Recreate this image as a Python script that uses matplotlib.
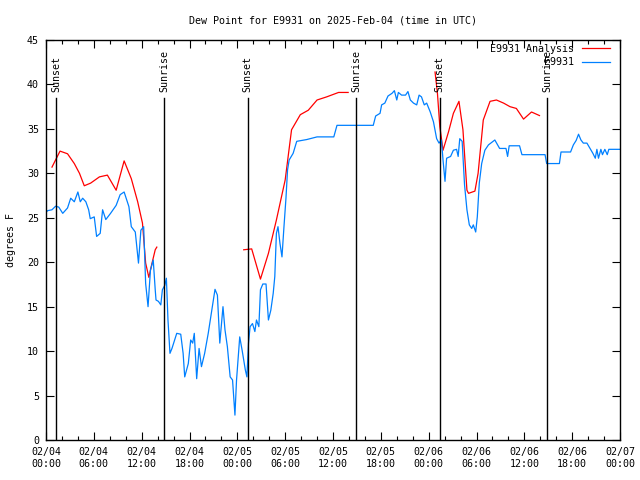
import datetime as dt
import matplotlib
matplotlib.use('Agg')
import matplotlib.pyplot as plt
import matplotlib.dates as mdates

# hours after 2025-02-04 00:00 UTC
analysis_hours = [
    [0.75, 1.76, 2.7, 3.55, 4.2, 4.8, 5.6, 6.7, 7.7, 8.8, 9.8, 10.7, 11.5, 12.1, 12.5, 12.9, 13.3, 13.7, 13.9],
    [24.8, 25.8, 26.9, 27.9, 28.9, 30.0, 30.8, 31.9, 32.9, 34.0, 35.2, 36.7, 37.9],
    [48.8, 49.1, 49.4, 49.8, 50.5, 51.1, 51.8, 52.3, 52.8, 53.0, 53.8, 54.2, 54.85, 55.7, 56.5,
     57.4, 58.2, 59.0, 59.9, 60.9, 61.9],
]
analysis_vals = [
    [30.7, 32.5, 32.2, 31.1, 30.0, 28.6, 28.9, 29.6, 29.8, 28.1, 31.4, 29.4, 26.8, 24.4, 19.9, 18.3, 19.9, 21.4, 21.7],
    [21.4, 21.5, 18.1, 21.0, 24.75, 29.25, 34.9, 36.6, 37.1, 38.25, 38.6, 39.1, 39.1],
    [41.4, 39.0, 35.25, 32.6, 34.7, 36.75, 38.1, 34.9, 28.1, 27.75, 28.0, 30.0, 36.0, 38.1, 38.25,
     37.9, 37.5, 37.3, 36.1, 36.9, 36.5],
]

station_hours = [
    0.0, 0.2, 0.75, 1.2, 1.6, 2.1, 2.7, 3.1, 3.55, 4.0, 4.3, 4.6, 5.0, 5.35, 5.55, 6.05, 6.35, 6.8,
    7.1, 7.5, 8.1, 8.8, 9.3, 9.8, 10.4, 10.7, 11.2, 11.6, 11.9, 12.25, 12.5, 12.8, 13.1, 13.45,
    13.7, 13.8, 14.1, 14.4, 14.6, 14.9, 15.1, 15.3, 15.55, 15.8, 16.4, 16.9, 17.2, 17.4, 17.85,
    18.15, 18.4, 18.6, 18.9, 19.2, 19.5, 19.9, 20.35, 20.8, 21.2, 21.5, 21.8, 22.2, 22.45, 22.75,
    23.1, 23.4, 23.7, 23.9, 24.3, 24.6, 25.0, 25.2, 25.4, 25.6, 25.9, 26.2, 26.4, 26.7, 26.9,
    27.2, 27.6, 27.9, 28.2, 28.5, 28.7, 28.9, 29.1, 29.35, 29.6, 29.85, 30.1, 30.3, 30.5, 31.0,
    31.45, 32.7, 34.0, 36.1, 36.5, 37.7, 41.05, 41.35, 41.9, 42.1, 42.5, 42.9, 43.4, 43.7, 44.0,
    44.2, 44.6, 45.1, 45.4, 45.7, 46.1, 46.5, 46.8, 47.1, 47.45, 47.75, 48.2, 48.6, 49.0, 49.3,
    49.6, 49.8, 50.05, 50.25, 50.75, 51.1, 51.5, 51.7, 51.9, 52.2, 52.3, 52.5, 52.8, 53.1, 53.4,
    53.6, 53.9, 54.1, 54.35, 54.65, 55.05, 55.5, 56.3, 56.9, 57.7, 57.9, 58.1, 58.8, 59.4, 59.7,
    62.6, 62.8, 64.4, 64.6, 65.8, 66.15, 66.5, 66.8, 67.1, 67.4, 67.85, 68.3, 68.6, 68.9, 69.1,
    69.3, 69.6, 69.8, 70.1, 70.4, 70.6, 72.0,
]
station_vals = [
    25.6, 25.8, 25.9, 26.3, 26.2, 25.5, 26.1, 27.2, 26.8, 27.9, 26.8, 27.2, 26.8, 25.9, 24.9, 25.1, 22.9, 23.25,
    25.9, 24.8, 25.5, 26.4, 27.6, 27.9, 26.25, 24.0, 23.4, 19.9, 23.6, 24.0, 17.6, 15.0, 19.1, 20.25,
    16.9, 15.75, 15.6, 15.2, 16.9, 17.4, 18.2, 13.5, 9.75, 10.3, 12.0, 11.9, 9.75, 7.1, 8.6,
    11.25, 10.9, 12.0, 6.9, 10.3, 8.25, 9.75, 12.0, 14.6, 16.95, 16.3, 10.9, 15.0, 12.4, 10.5,
    7.1, 6.75, 2.8, 6.75, 11.6, 10.1, 7.9, 7.1, 10.9, 12.75, 13.1, 12.2, 13.5, 12.75, 16.9,
    17.55, 17.55, 13.5, 14.6, 16.5, 18.4, 23.25, 24.0, 22.1, 20.6, 24.0, 27.2, 30.4, 31.5, 32.25,
    33.6, 33.8, 34.1, 34.1, 35.4, 35.4, 35.4, 36.45, 36.75, 37.7, 37.9, 38.7, 39.0, 39.3, 38.25,
    39.1, 38.8, 38.8, 39.2, 38.25, 37.9, 37.7, 38.8, 38.6, 37.7, 37.9, 36.9, 35.8, 33.9, 33.4,
    33.75, 31.5, 29.1, 31.7, 31.9, 32.6, 32.7, 31.9, 33.9, 33.6, 31.9, 28.7, 25.9, 24.2, 23.8,
    24.2, 23.4, 25.1, 28.9, 31.1, 32.6, 33.2, 33.75, 32.8, 32.8, 31.9, 33.1, 33.1, 33.1, 32.1,
    32.1, 31.1, 31.1, 32.4, 32.4, 33.2, 33.7, 34.4, 33.75, 33.4, 33.4, 32.7, 32.25, 31.7, 32.7,
    31.7, 32.7, 32.1, 32.7, 32.1, 32.7, 32.7,
]

sun_hours = [1.25, 14.8, 25.3, 38.9, 49.4, 62.85]
sun_labels = ['Sunset', 'Sunrise', 'Sunset', 'Sunrise', 'Sunset', 'Sunrise']

start = dt.datetime(2025, 2, 4, 0, 0)
def to_time(hours):
    return [start + dt.timedelta(hours=h) for h in hours]

plt.rcParams['font.family'] = 'DejaVu Sans Mono'
fs = 7.2

fig = plt.figure(figsize=(6.4, 4.8), dpi=100)
ax = fig.add_axes([46/640, 40/480, 574/640, 400/480])

for i in range(len(analysis_hours)):
    ax.plot(to_time(analysis_hours[i]), analysis_vals[i], color='#ff0000', lw=0.9,
            label='E9931 Analysis' if i == 0 else None)
ax.plot(to_time(station_hours), station_vals, color='#0080ff', lw=0.9, label='E9931')

for h, lab in zip(sun_hours, sun_labels):
    t = start + dt.timedelta(hours=h)
    ax.plot([t, t], [0, 38.5], color='black', lw=1.0)
    ax.text(t, 39.1, lab, rotation=90, ha='center', va='bottom', fontsize=fs)

ax.set_xlim(start, start + dt.timedelta(hours=72))
ax.set_ylim(0, 45)
ax.set_yticks(range(0, 46, 5))
ax.xaxis.set_major_locator(mdates.HourLocator(byhour=[0, 6, 12, 18]))
ax.xaxis.set_minor_locator(mdates.HourLocator(byhour=range(0, 24, 2)))
ax.xaxis.set_major_formatter(mdates.DateFormatter('%m/%d\n%H:%M'))
ax.tick_params(which='both', direction='in', top=True, right=True, labelsize=fs, width=0.8)
ax.tick_params(which='major', length=6, pad=5)
ax.tick_params(which='minor', length=3)
for s in ax.spines.values():
    s.set_linewidth(1.0)

ax.set_title('Dew Point for E9931 on 2025-Feb-04 (time in UTC)', fontsize=fs, pad=12)
ax.set_ylabel('degrees F', fontsize=fs, labelpad=8)

ax.legend(loc='upper right', bbox_to_anchor=(1 - 6/574, 1.0), frameon=False,
          markerfirst=False, fontsize=fs, handlelength=2.8, borderaxespad=0.2,
          borderpad=0.2, labelspacing=0.35, handletextpad=0.8)

fig.savefig('out.png', dpi=100)
